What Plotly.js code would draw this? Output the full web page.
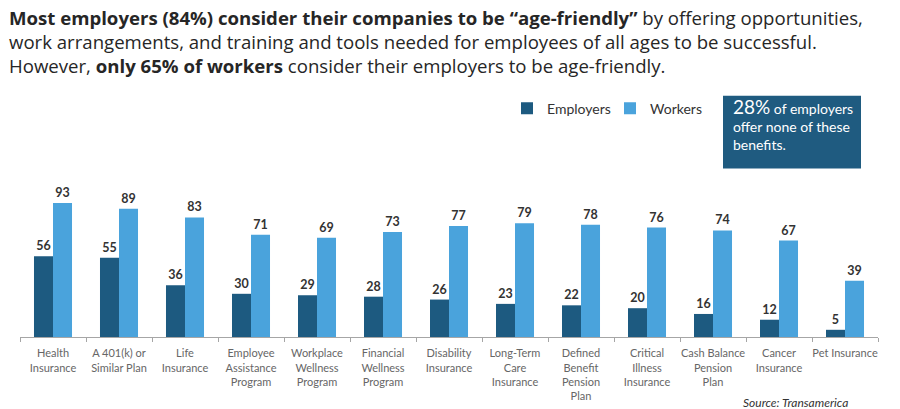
<!DOCTYPE html>
<html>
<head>
<meta charset="utf-8">
<script src="https://cdn.plot.ly/plotly-3.0.1.min.js"></script>
<style>html,body{margin:0;padding:0;background:#fff;}#chart{width:900px;height:409px;}</style>
</head>
<body>
<div id="chart"></div>
<script>
const categories = [
  "Health<br>Insurance",
  "A 401(k) or<br>Similar Plan",
  "Life<br>Insurance",
  "Employee<br>Assistance<br>Program",
  "Workplace<br>Wellness<br>Program",
  "Financial<br>Wellness<br>Program",
  "Disability<br>Insurance",
  "Long-Term<br>Care<br>Insurance",
  "Defined<br>Benefit<br>Pension<br>Plan",
  "Critical<br>Illness<br>Insurance",
  "Cash Balance<br>Pension<br>Plan",
  "Cancer<br>Insurance",
  "Pet Insurance"
];
const employers = [56, 55, 36, 30, 29, 28, 26, 23, 22, 20, 16, 12, 5];
const workers = [93, 89, 83, 71, 69, 73, 77, 79, 78, 76, 74, 67, 39];
const titleLines = [
  "<b>Most employers (84%) consider their companies to be “age-friendly”</b> by offering opportunities,",
  "work arrangements, and training and tools needed for employees of all ages to be successful.",
  "However, <b>only 65% of workers</b> consider their employers to be age-friendly."
];

const labelFont = {family: "Lato, 'Open Sans', sans-serif", size: 12.5, color: "#333333", weight: 700};

const traces = [
  {
    type: "bar", name: "Employers", x: categories, y: employers,
    marker: {color: "#1d5a80"},
    text: employers.map(String), textposition: "outside", cliponaxis: false,
    textfont: labelFont
  },
  {
    type: "bar", name: "Workers", x: categories, y: workers,
    marker: {color: "#4aa3dc"},
    text: workers.map(String), textposition: "outside", cliponaxis: false,
    textfont: labelFont
  }
];

// pixel helpers for layout placement (plot area: x 20..878, y 192.6..337)
const px = v => (v - 20) / 858;
const py = v => (337 - v) / 144.4;

const annotations = [{
  xref: "paper", yref: "paper", x: px(7), y: py(41),
  xanchor: "left", yanchor: "middle", align: "left", showarrow: false,
  text: titleLines.join("<br>"),
  font: {family: "'Open Sans', sans-serif", size: 18.6, color: "#262626"}
}];
annotations.push({
  xref: "paper", yref: "paper", x: px(731), y: py(92),
  xanchor: "left", yanchor: "top", showarrow: false, align: "left",
  text: "<span style='font-size:19px'>28%</span> of employers<br>offer none of these<br>benefits.",
  font: {family: "Lato, sans-serif", size: 14, color: "#ffffff"}
});
annotations.push({
  xref: "paper", yref: "paper", x: px(850), y: py(403),
  xanchor: "right", yanchor: "middle", showarrow: false,
  text: "<i>Source: Transamerica</i>",
  font: {family: "Lato, sans-serif", size: 12, color: "#333333"}
});

const layout = {
  width: 900, height: 409,
  margin: {l: 20, r: 22, t: 193, b: 72},
  paper_bgcolor: "#ffffff", plot_bgcolor: "#ffffff",
  barmode: "group", bargap: 0.424, bargroupgap: 0,
  font: {family: "Lato, 'Open Sans', sans-serif", color: "#555555"},
  showlegend: true,
  legend: {
    orientation: "h", x: px(507), y: py(108), xanchor: "left", yanchor: "middle",
    font: {size: 14, color: "#333333", family: "Lato, sans-serif"},
    bgcolor: "rgba(0,0,0,0)", itemwidth: 30, traceorder: "normal",
    entrywidth: 58, entrywidthmode: "pixels"
  },
  xaxis: {
    type: "category", showline: true, linecolor: "#a6a6a6", linewidth: 1,
    ticks: "outside", tickson: "boundaries", ticklen: 4, tickcolor: "#a6a6a6",
    ticklabelstandoff: 6,
    tickfont: {size: 11, color: "#666666", family: "Lato, sans-serif"},
    showgrid: false, zeroline: false, tickangle: 0, fixedrange: true
  },
  yaxis: {
    range: [0, 100], visible: false, showgrid: false, zeroline: false, fixedrange: true
  },
  shapes: [
    {type: "rect", xref: "paper", yref: "paper", x0: px(723), x1: px(861), y0: py(168), y1: py(95),
     fillcolor: "#1f5b80", line: {width: 0}, layer: "below"}
  ],
  annotations: annotations
};

Plotly.newPlot("chart", traces, layout, {displayModeBar: false, staticPlot: true});
</script>
</body>
</html>
